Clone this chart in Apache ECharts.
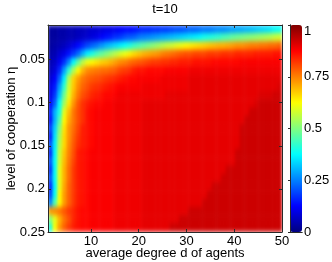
<!DOCTYPE html>
<html><head><meta charset="utf-8">
<script src="https://cdn.jsdelivr.net/npm/echarts@6/dist/echarts.min.js"></script>
<style>
html,body{margin:0;padding:0;background:#fff}
#wrap{position:relative;width:332px;height:262px;overflow:hidden}
#hm{position:absolute;left:48px;top:25px;width:234px;height:207px;filter:url(#smooth)}
#ax{position:absolute;left:0;top:0;width:332px;height:262px}
</style>
</head><body>
<svg width="0" height="0" style="position:absolute">
  <filter id="smooth" x="0" y="0" width="100%" height="100%" color-interpolation-filters="sRGB">
    <feGaussianBlur stdDeviation="1.6 2.6" edgeMode="duplicate"/>
  </filter>
</svg>
<div id="wrap"><div id="hm"></div><div id="ax"></div></div>
<script>
// x categories: average degree d of agents
const degrees = [1,2,3,4,5,6,7,8,9,10,11,12,13,14,15,16,17,18,19,20,21,22,23,24,25,26,27,28,29,30,31,32,33,34,35,36,37,38,39,40,41,42,43,44,45,46,47,48,49,50];
// y categories: level of cooperation eta
const etas = [0.01,0.02,0.03,0.04,0.05,0.06,0.07,0.08,0.09,0.10,0.11,0.12,0.13,0.14,0.15,0.16,0.17,0.18,0.19,0.20,0.21,0.22,0.23,0.24,0.25];

// values per eta row (d = 1..50)
const eta01 = [0.03,0.03,0.04,0.04,0.05,0.05,0.06,0.06,0.07,0.08, 0.08,0.09,0.10,0.10,0.11,0.12,0.13,0.13,0.14,0.15, 0.16,0.16,0.17,0.17,0.18,0.18,0.19,0.20,0.20,0.21, 0.22,0.22,0.23,0.24,0.24,0.25,0.26,0.26,0.27,0.28, 0.29,0.29,0.30,0.31,0.32,0.33,0.34,0.35,0.37,0.38];
const eta02 = [0.03,0.03,0.04,0.04,0.05,0.05,0.06,0.07,0.08,0.09, 0.10,0.12,0.14,0.15,0.17,0.18,0.20,0.21,0.22,0.24, 0.25,0.26,0.27,0.28,0.29,0.30,0.31,0.32,0.33,0.34, 0.35,0.36,0.37,0.39,0.40,0.41,0.42,0.44,0.45,0.47, 0.48,0.49,0.50,0.51,0.52,0.53,0.54,0.55,0.57,0.58];
const eta03 = [0.03,0.04,0.05,0.06,0.08,0.10,0.13,0.16,0.19,0.22, 0.24,0.27,0.30,0.32,0.34,0.36,0.38,0.40,0.43,0.45, 0.47,0.49,0.51,0.53,0.55,0.57,0.58,0.60,0.61,0.63, 0.64,0.65,0.66,0.67,0.68,0.69,0.70,0.70,0.71,0.72, 0.73,0.73,0.74,0.75,0.75,0.76,0.76,0.77,0.77,0.78];
const eta04 = [0.04,0.05,0.08,0.10,0.14,0.18,0.23,0.30,0.36,0.40, 0.44,0.47,0.50,0.53,0.56,0.59,0.61,0.64,0.66,0.68, 0.70,0.71,0.72,0.73,0.75,0.76,0.77,0.78,0.79,0.80, 0.80,0.81,0.81,0.81,0.82,0.82,0.82,0.83,0.83,0.83, 0.84,0.84,0.84,0.84,0.85,0.85,0.85,0.85,0.86,0.86];
const eta05 = [0.05,0.07,0.11,0.17,0.26,0.37,0.47,0.56,0.61,0.63, 0.65,0.67,0.68,0.70,0.72,0.74,0.75,0.77,0.78,0.79, 0.80,0.81,0.82,0.82,0.83,0.83,0.84,0.84,0.85,0.85, 0.85,0.86,0.86,0.86,0.86,0.87,0.87,0.87,0.87,0.87, 0.87,0.88,0.88,0.88,0.88,0.88,0.88,0.88,0.88,0.88];
const eta06 = [0.06,0.09,0.16,0.28,0.42,0.54,0.63,0.70,0.74,0.75, 0.76,0.77,0.77,0.78,0.79,0.81,0.82,0.83,0.85,0.86, 0.86,0.87,0.87,0.87,0.87,0.88,0.88,0.88,0.88,0.88, 0.89,0.89,0.89,0.89,0.89,0.89,0.89,0.89,0.89,0.89, 0.89,0.89,0.89,0.89,0.89,0.89,0.89,0.89,0.89,0.89];
const eta07 = [0.08,0.12,0.22,0.36,0.55,0.67,0.72,0.76,0.78,0.79, 0.80,0.81,0.82,0.83,0.84,0.85,0.86,0.87,0.87,0.88, 0.88,0.88,0.88,0.88,0.89,0.89,0.89,0.89,0.89,0.89, 0.90,0.90,0.90,0.90,0.90,0.90,0.90,0.90,0.90,0.90, 0.90,0.90,0.90,0.90,0.90,0.90,0.90,0.90,0.90,0.90];
const eta08 = [0.10,0.15,0.28,0.42,0.58,0.68,0.74,0.78,0.80,0.82, 0.83,0.84,0.85,0.86,0.87,0.88,0.88,0.88,0.88,0.88, 0.89,0.89,0.89,0.89,0.89,0.89,0.89,0.89,0.89,0.89, 0.90,0.90,0.90,0.90,0.90,0.90,0.90,0.90,0.90,0.90, 0.90,0.90,0.90,0.90,0.90,0.90,0.90,0.90,0.90,0.91];
const eta09 = [0.10,0.18,0.32,0.48,0.60,0.70,0.76,0.80,0.82,0.84, 0.85,0.86,0.87,0.87,0.88,0.89,0.89,0.89,0.89,0.89, 0.89,0.89,0.89,0.89,0.89,0.90,0.90,0.90,0.90,0.90, 0.90,0.90,0.90,0.90,0.90,0.90,0.90,0.90,0.90,0.90, 0.90,0.90,0.90,0.90,0.90,0.91,0.91,0.91,0.92,0.92];
const eta10 = [0.12,0.22,0.38,0.53,0.65,0.73,0.79,0.83,0.85,0.86, 0.87,0.87,0.88,0.88,0.89,0.89,0.89,0.89,0.89,0.89, 0.90,0.90,0.90,0.90,0.90,0.90,0.90,0.90,0.90,0.90, 0.90,0.90,0.90,0.90,0.90,0.90,0.90,0.90,0.90,0.90, 0.90,0.90,0.90,0.90,0.91,0.925,0.925,0.925,0.925,0.925];
const eta11 = [0.15,0.30,0.40,0.60,0.69,0.76,0.80,0.83,0.86,0.87, 0.88,0.88,0.88,0.88,0.89,0.89,0.89,0.89,0.89,0.89, 0.90,0.90,0.90,0.90,0.90,0.90,0.90,0.90,0.90,0.90, 0.90,0.90,0.90,0.90,0.90,0.90,0.90,0.90,0.90,0.90, 0.90,0.90,0.90,0.925,0.925,0.925,0.925,0.925,0.925,0.925];
const eta12 = [0.13,0.30,0.45,0.63,0.71,0.76,0.80,0.83,0.86,0.87, 0.88,0.88,0.88,0.88,0.89,0.89,0.89,0.89,0.89,0.89, 0.90,0.90,0.90,0.90,0.90,0.90,0.90,0.90,0.90,0.90, 0.90,0.90,0.90,0.90,0.90,0.90,0.90,0.90,0.90,0.90, 0.90,0.90,0.925,0.925,0.925,0.925,0.925,0.925,0.925,0.925];
const eta13 = [0.18,0.33,0.50,0.65,0.73,0.77,0.81,0.85,0.86,0.87, 0.88,0.88,0.88,0.88,0.89,0.89,0.89,0.89,0.89,0.89, 0.90,0.90,0.90,0.90,0.90,0.90,0.90,0.90,0.90,0.90, 0.90,0.90,0.90,0.90,0.90,0.90,0.90,0.90,0.90,0.90, 0.90,0.925,0.925,0.925,0.925,0.925,0.925,0.925,0.925,0.925];
const eta14 = [0.14,0.35,0.53,0.66,0.73,0.78,0.82,0.85,0.86,0.87, 0.88,0.88,0.88,0.88,0.89,0.89,0.89,0.89,0.89,0.89, 0.90,0.90,0.90,0.90,0.90,0.90,0.90,0.90,0.90,0.90, 0.90,0.90,0.90,0.90,0.90,0.90,0.90,0.90,0.90,0.90, 0.90,0.925,0.925,0.925,0.925,0.925,0.925,0.925,0.925,0.925];
const eta15 = [0.20,0.36,0.55,0.66,0.74,0.79,0.83,0.85,0.86,0.87, 0.88,0.88,0.88,0.88,0.89,0.89,0.89,0.89,0.89,0.89, 0.90,0.90,0.90,0.90,0.90,0.90,0.90,0.90,0.90,0.90, 0.90,0.90,0.90,0.90,0.90,0.90,0.90,0.90,0.90,0.90, 0.90,0.925,0.925,0.925,0.925,0.925,0.925,0.925,0.925,0.925];
const eta16 = [0.15,0.37,0.57,0.68,0.75,0.80,0.85,0.86,0.87,0.88, 0.88,0.88,0.88,0.88,0.89,0.89,0.89,0.89,0.89,0.89, 0.90,0.90,0.90,0.90,0.90,0.90,0.90,0.90,0.90,0.90, 0.90,0.90,0.90,0.90,0.90,0.90,0.90,0.90,0.90,0.90, 0.925,0.925,0.925,0.925,0.925,0.925,0.925,0.925,0.925,0.925];
const eta17 = [0.20,0.38,0.58,0.69,0.76,0.81,0.85,0.86,0.87,0.88, 0.88,0.88,0.88,0.88,0.89,0.89,0.89,0.89,0.89,0.89, 0.90,0.90,0.90,0.90,0.90,0.90,0.90,0.90,0.90,0.90, 0.90,0.90,0.90,0.90,0.90,0.90,0.90,0.90,0.90,0.90, 0.925,0.925,0.925,0.925,0.925,0.925,0.925,0.925,0.925,0.925];
const eta18 = [0.16,0.38,0.60,0.70,0.77,0.82,0.85,0.86,0.87,0.88, 0.88,0.88,0.88,0.88,0.89,0.89,0.89,0.89,0.89,0.89, 0.90,0.90,0.90,0.90,0.90,0.90,0.90,0.90,0.90,0.90, 0.90,0.90,0.90,0.90,0.90,0.90,0.90,0.90,0.925,0.925, 0.925,0.925,0.925,0.925,0.925,0.925,0.925,0.925,0.925,0.925];
const eta19 = [0.20,0.38,0.60,0.70,0.77,0.82,0.85,0.86,0.87,0.88, 0.88,0.88,0.88,0.88,0.89,0.89,0.89,0.89,0.89,0.89, 0.90,0.90,0.90,0.90,0.90,0.90,0.90,0.90,0.90,0.90, 0.90,0.90,0.90,0.90,0.90,0.90,0.90,0.925,0.925,0.925, 0.925,0.925,0.925,0.925,0.925,0.925,0.925,0.925,0.925,0.925];
const eta20 = [0.15,0.37,0.60,0.71,0.78,0.82,0.85,0.86,0.87,0.88, 0.88,0.88,0.88,0.88,0.89,0.89,0.89,0.89,0.89,0.89, 0.90,0.90,0.90,0.90,0.90,0.90,0.90,0.90,0.90,0.90, 0.90,0.90,0.90,0.90,0.90,0.925,0.925,0.925,0.925,0.925, 0.925,0.925,0.925,0.925,0.925,0.925,0.925,0.925,0.925,0.925];
const eta21 = [0.18,0.38,0.63,0.72,0.78,0.82,0.85,0.86,0.87,0.88, 0.88,0.88,0.88,0.88,0.89,0.89,0.89,0.89,0.89,0.89, 0.90,0.90,0.90,0.90,0.90,0.90,0.90,0.90,0.90,0.90, 0.90,0.90,0.90,0.90,0.925,0.925,0.925,0.925,0.925,0.925, 0.925,0.925,0.925,0.925,0.925,0.925,0.925,0.925,0.925,0.925];
const eta22 = [0.25,0.45,0.62,0.72,0.78,0.82,0.85,0.86,0.87,0.88, 0.88,0.88,0.88,0.88,0.89,0.89,0.89,0.89,0.89,0.89, 0.90,0.90,0.90,0.90,0.90,0.90,0.90,0.90,0.90,0.90, 0.90,0.90,0.90,0.925,0.925,0.925,0.925,0.925,0.925,0.925, 0.925,0.925,0.925,0.925,0.925,0.925,0.925,0.925,0.925,0.925];
const eta23 = [0.72,0.74,0.76,0.79,0.82,0.84,0.86,0.87,0.87,0.88, 0.88,0.88,0.88,0.88,0.89,0.89,0.89,0.89,0.89,0.89, 0.90,0.90,0.90,0.90,0.90,0.90,0.90,0.90,0.90,0.90, 0.925,0.925,0.925,0.925,0.925,0.925,0.925,0.925,0.925,0.925, 0.925,0.925,0.925,0.925,0.925,0.925,0.925,0.925,0.925,0.925];
const eta24 = [0.50,0.60,0.70,0.76,0.80,0.84,0.86,0.87,0.87,0.88, 0.88,0.88,0.88,0.88,0.89,0.89,0.89,0.89,0.89,0.89, 0.90,0.90,0.90,0.90,0.90,0.90,0.90,0.90,0.925,0.925, 0.925,0.925,0.925,0.925,0.925,0.925,0.925,0.925,0.925,0.925, 0.925,0.925,0.925,0.925,0.925,0.925,0.925,0.925,0.925,0.925];
const eta25 = [0.40,0.62,0.72,0.78,0.82,0.85,0.86,0.87,0.87,0.88, 0.88,0.88,0.88,0.88,0.89,0.89,0.89,0.89,0.89,0.89, 0.90,0.90,0.90,0.90,0.90,0.90,0.925,0.925,0.925,0.925, 0.925,0.925,0.925,0.925,0.925,0.925,0.925,0.925,0.925,0.925, 0.925,0.925,0.925,0.925,0.925,0.925,0.925,0.925,0.925,0.925];

const rows = [eta01,eta02,eta03,eta04,eta05,eta06,eta07,eta08,eta09,eta10,eta11,eta12,eta13,eta14,eta15,eta16,eta17,eta18,eta19,eta20,eta21,eta22,eta23,eta24,eta25];

// tick labels
const xTicks = [10,20,30,40,50];
const yTicks = [0.05,0.1,0.15,0.2,0.25];
const cbTicks = [0,0.25,0.5,0.75,1];

const jet = ['#000080','#0000ff','#0080ff','#00ffff','#80ff80','#ffff00','#ff8000','#ff0000','#800000'];

const data = [];
rows.forEach((r, i) => r.forEach((v, j) => data.push([j, i, v])));

const font = '"Liberation Sans", Arial, sans-serif';
const lineCol = '#2a2a2a';
const txt = {fontSize: 13, color: '#000', fontFamily: font};
const PL = 48, PT = 25, PW = 234, PH = 207;

// heatmap layer (fills the plot area exactly)
const hm = echarts.init(document.getElementById('hm'), null, {renderer: 'canvas'});
hm.setOption({
  animation: false,
  grid: {left: 0, top: 0, right: 0, bottom: 0, outerBoundsMode: 'none', containLabel: false},
  xAxis: {type: 'category', data: degrees, show: false},
  yAxis: {type: 'category', data: etas, inverse: true, show: false},
  visualMap: {type: 'continuous', min: 0, max: 1, show: false, inRange: {color: jet}},
  series: [{type: 'heatmap', data: data, itemStyle: {borderWidth: 0}, emphasis: {disabled: true}}]
});

// axes, title, colorbar layer
const frameAxis = (extra) => Object.assign({
  z: 10,
  axisLine: {show: true, lineStyle: {color: lineCol, width: 1}},
  axisTick: {show: false}, axisLabel: {show: false}, splitLine: {show: false}
}, extra);

const ax = echarts.init(document.getElementById('ax'), null, {renderer: 'canvas'});
ax.setOption({
  animation: false,
  title: {text: 't=10', left: 165, top: 3, padding: 0, textAlign: 'center',
    textStyle: Object.assign({fontWeight: 'normal'}, txt)},
  grid: [
    {left: PL, top: PT, width: PW, height: PH, outerBoundsMode: 'none', containLabel: false},
    {left: 290, top: PT, width: 12, height: PH, outerBoundsMode: 'none', containLabel: false}
  ],
  xAxis: [
    frameAxis({type: 'value', gridIndex: 0, min: 1, max: 50, position: 'bottom',
      axisTick: {show: true, inside: true, length: 3, customValues: xTicks, lineStyle: {color: lineCol}},
      axisLabel: Object.assign({customValues: xTicks, margin: 3}, txt),
      name: 'average degree d of agents', nameLocation: 'middle', nameGap: 15,
      nameMoveOverlap: false, nameTextStyle: txt}),
    frameAxis({type: 'value', gridIndex: 0, min: 1, max: 50, position: 'top',
      axisTick: {show: true, inside: true, length: 3, customValues: xTicks, lineStyle: {color: lineCol}}}),
    frameAxis({type: 'value', gridIndex: 1, min: 0, max: 1, position: 'bottom'}),
    frameAxis({type: 'value', gridIndex: 1, min: 0, max: 1, position: 'top'})
  ],
  yAxis: [
    frameAxis({type: 'value', gridIndex: 0, min: 0.01, max: 0.25, inverse: true, position: 'left',
      axisTick: {show: true, inside: true, length: 3, customValues: yTicks, lineStyle: {color: lineCol}},
      axisLabel: Object.assign({customValues: yTicks, margin: 3}, txt),
      name: 'level of cooperation \u03b7', nameLocation: 'middle', nameGap: 30,
      nameMoveOverlap: false, nameTextStyle: txt}),
    frameAxis({type: 'value', gridIndex: 0, min: 0.01, max: 0.25, inverse: true, position: 'right',
      axisTick: {show: true, inside: true, length: 3, customValues: yTicks, lineStyle: {color: lineCol}}}),
    frameAxis({type: 'value', gridIndex: 1, min: 0, max: 1, position: 'left'}),
    frameAxis({type: 'value', gridIndex: 1, min: 0, max: 1, position: 'right',
      axisTick: {show: true, inside: true, length: 2, customValues: cbTicks, lineStyle: {color: lineCol}},
      axisLabel: Object.assign({customValues: cbTicks, margin: 2, verticalAlignMaxLabel: 'top'}, txt)})
  ],
  visualMap: {
    type: 'continuous', min: 0, max: 1, calculable: false, hoverLink: false,
    orient: 'vertical', left: 290, top: PT, itemWidth: 12, itemHeight: PH, padding: 0,
    text: null, showLabel: false, inRange: {color: jet}
  },
  series: []
});
</script></body></html>
